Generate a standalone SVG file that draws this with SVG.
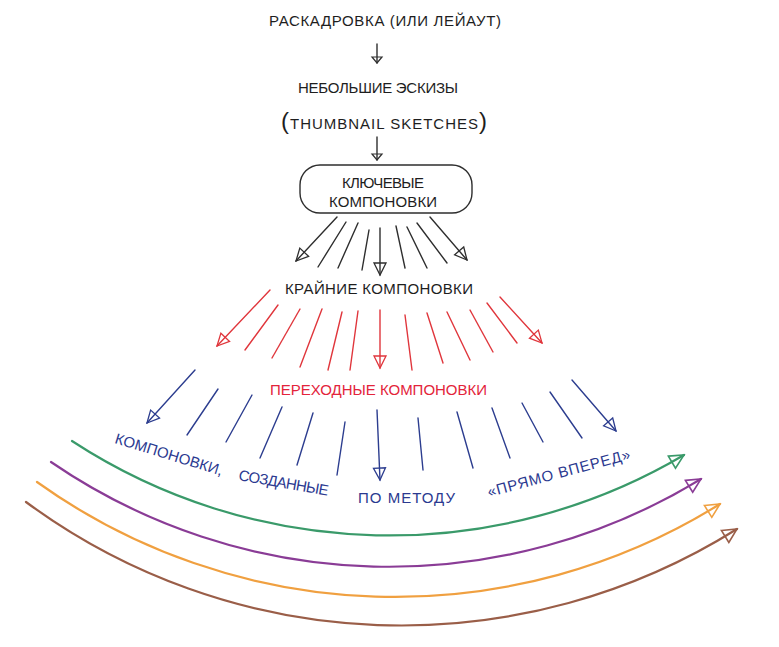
<svg xmlns="http://www.w3.org/2000/svg" width="779" height="647" viewBox="0 0 779 647">
<defs>
<style>
.t{font-family:"Liberation Sans","Noto Sans",sans-serif;font-size:15px;fill:#1e1e1e}
.tr{fill:#e3243b}
.tb{fill:#2b3990}
.k{stroke:#2e2e2e;stroke-width:1.4;fill:none;stroke-linecap:round}
.r{stroke:#e0363c;stroke-width:1.4;fill:none;stroke-linecap:round}
.b{stroke:#2c3d8f;stroke-width:1.4;fill:none;stroke-linecap:round}
.c{fill:none;stroke-width:2.2;stroke-linecap:round}
</style>
<marker id="ms" markerUnits="userSpaceOnUse" markerWidth="10" markerHeight="12" refX="7" refY="5" orient="auto" overflow="visible"><path d="M1,0 L7,5 L1,10 Z" fill="none" stroke="#2e2e2e" stroke-width="1.2"/></marker>
<marker id="mk" markerUnits="userSpaceOnUse" markerWidth="16" markerHeight="14" refX="14" refY="7" orient="auto" overflow="visible"><path d="M2,1 L14,7 L2,13 Z" fill="none" stroke="#2e2e2e" stroke-width="1.3"/></marker>
<marker id="mr" markerUnits="userSpaceOnUse" markerWidth="16" markerHeight="14" refX="14" refY="7" orient="auto" overflow="visible"><path d="M2,1 L14,7 L2,13 Z" fill="none" stroke="#e0363c" stroke-width="1.3"/></marker>
<marker id="mb" markerUnits="userSpaceOnUse" markerWidth="16" markerHeight="14" refX="14" refY="7" orient="auto" overflow="visible"><path d="M2,1 L14,7 L2,13 Z" fill="none" stroke="#2c3d8f" stroke-width="1.3"/></marker>
<marker id="mg" markerUnits="userSpaceOnUse" markerWidth="18" markerHeight="16" refX="16" refY="7" orient="auto" overflow="visible"><path d="M2,0 L16,7 L2,14 Z" fill="none" stroke="#3a9a6a" stroke-width="1.6"/></marker>
<marker id="mp" markerUnits="userSpaceOnUse" markerWidth="18" markerHeight="16" refX="16" refY="7" orient="auto" overflow="visible"><path d="M2,0 L16,7 L2,14 Z" fill="none" stroke="#8a3c96" stroke-width="1.6"/></marker>
<marker id="mo" markerUnits="userSpaceOnUse" markerWidth="18" markerHeight="16" refX="16" refY="7" orient="auto" overflow="visible"><path d="M2,0 L16,7 L2,14 Z" fill="none" stroke="#f0a040" stroke-width="1.6"/></marker>
<marker id="mn" markerUnits="userSpaceOnUse" markerWidth="18" markerHeight="16" refX="16" refY="7" orient="auto" overflow="visible"><path d="M2,0 L16,7 L2,14 Z" fill="none" stroke="#9a5e48" stroke-width="1.6"/></marker>
</defs>
<rect width="779" height="647" fill="#ffffff"/>

<g id="connectors">
<line class="k" x1="377" y1="44" x2="377" y2="63" marker-end="url(#ms)"/>
<line class="k" x1="377" y1="137" x2="377" y2="160" marker-end="url(#ms)"/>

<g id="black-fan">
<line class="k" x1="337" y1="217" x2="296" y2="261" marker-end="url(#mk)"/>
<line class="k" x1="346" y1="222" x2="318" y2="267"/>
<line class="k" x1="358" y1="223" x2="338" y2="268"/>
<line class="k" x1="369" y1="230" x2="362" y2="270"/>
<line class="k" x1="380" y1="228" x2="380" y2="275" marker-end="url(#mk)"/>
<line class="k" x1="396" y1="226" x2="405" y2="268"/>
<line class="k" x1="407" y1="227" x2="427" y2="268"/>
<line class="k" x1="417" y1="223" x2="447" y2="263"/>
<line class="k" x1="430" y1="217" x2="467" y2="260" marker-end="url(#mk)"/>
</g>

<g id="red-fan">
<line class="r" x1="270" y1="290" x2="217" y2="346" marker-end="url(#mr)"/>
<line class="r" x1="278" y1="305" x2="245" y2="350"/>
<line class="r" x1="300" y1="309" x2="272" y2="358"/>
<line class="r" x1="322" y1="309" x2="300" y2="367"/>
<line class="r" x1="342" y1="312" x2="328" y2="370"/>
<line class="r" x1="358" y1="311" x2="350" y2="370"/>
<line class="r" x1="380" y1="310" x2="380" y2="368" marker-end="url(#mr)"/>
<line class="r" x1="405" y1="315" x2="412" y2="370"/>
<line class="r" x1="427" y1="313" x2="443" y2="363"/>
<line class="r" x1="447" y1="312" x2="470" y2="360"/>
<line class="r" x1="470" y1="310" x2="493" y2="352"/>
<line class="r" x1="487" y1="303" x2="517" y2="343"/>
<line class="r" x1="500" y1="297" x2="542" y2="343" marker-end="url(#mr)"/>
</g>

<g id="blue-fan">
<line class="b" x1="195" y1="370" x2="147" y2="423" marker-end="url(#mb)"/>
<line class="b" x1="218" y1="389" x2="187" y2="435"/>
<line class="b" x1="252" y1="395" x2="226" y2="442"/>
<line class="b" x1="282" y1="407" x2="260" y2="458"/>
<line class="b" x1="313" y1="413" x2="297" y2="465"/>
<line class="b" x1="345" y1="422" x2="337" y2="475"/>
<line class="b" x1="377" y1="410" x2="380" y2="480" marker-end="url(#mb)"/>
<line class="b" x1="418" y1="418" x2="423" y2="470"/>
<line class="b" x1="457" y1="412" x2="473" y2="468"/>
<line class="b" x1="492" y1="408" x2="510" y2="458"/>
<line class="b" x1="522" y1="403" x2="543" y2="442"/>
<line class="b" x1="550" y1="392" x2="582" y2="438"/>
<line class="b" x1="572" y1="380" x2="616" y2="431" marker-end="url(#mb)"/>
</g>

<g id="arcs">
<path class="c" stroke="#3a9a6a" d="M72,441 A580,580 0 0 0 684,455" marker-end="url(#mg)"/>
<path class="c" stroke="#8a3c96" d="M51,462 A598,598 0 0 0 701,479" marker-end="url(#mp)"/>
<path class="c" stroke="#f0a040" d="M37,482 A615,615 0 0 0 720,504" marker-end="url(#mo)"/>
<path class="c" stroke="#9a5e48" d="M26,502 A632,632 0 0 0 737,529" marker-end="url(#mn)"/>
</g>
</g>

<g id="storyboard">
<text class="t" x="269" y="26" textLength="232">РАСКАДРОВКА (ИЛИ ЛЕЙАУТ)</text>
</g>

<g id="thumbnails">
<text class="t" x="298" y="93" textLength="160">НЕБОЛЬШИЕ ЭСКИЗЫ</text>
<text class="t" x="281" y="129" textLength="206" fill="#333"><tspan font-size="24">(</tspan>THUMBNAIL SKETCHES<tspan font-size="24">)</tspan></text>
</g>

<g id="key-poses">
<rect x="300" y="165" width="172" height="48" rx="20" ry="20" fill="#ffffff" stroke="#2e2e2e" stroke-width="1.4"/>
<text class="t" x="342" y="188" textLength="82">КЛЮЧЕВЫЕ</text>
<text class="t" x="329" y="207" textLength="108">КОМПОНОВКИ</text>
</g>

<g id="extremes">
<text class="t" x="285" y="294" textLength="188">КРАЙНИЕ КОМПОНОВКИ</text>
</g>

<g id="breakdowns">
<text class="t tr" x="270" y="395" textLength="217">ПЕРЕХОДНЫЕ КОМПОНОВКИ</text>
</g>

<g id="straight-ahead">
<text class="t tb" transform="translate(114,443) rotate(17)" textLength="112">КОМПОНОВКИ,</text>
<text class="t tb" transform="translate(238,480) rotate(10)" textLength="91">СОЗДАННЫЕ</text>
<text class="t tb" x="358" y="503" textLength="97">ПО МЕТОДУ</text>
<text class="t tb" transform="translate(489,497) rotate(-15)" textLength="147">«ПРЯМО ВПЕРЕД»</text>
</g>
</svg>
